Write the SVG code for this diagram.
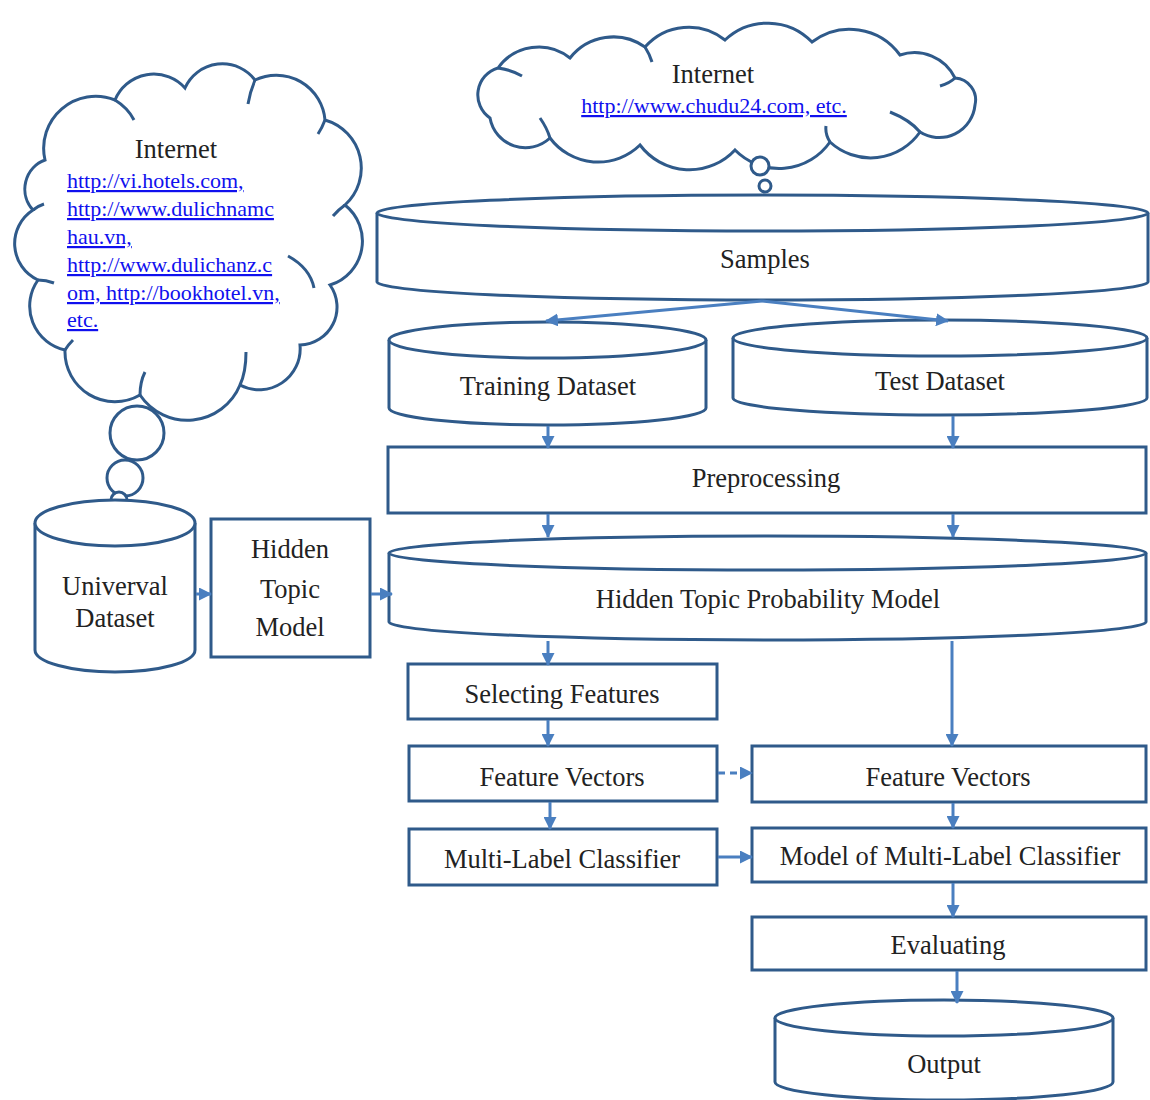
<svg xmlns="http://www.w3.org/2000/svg" width="1150" height="1100" viewBox="0 0 1150 1100">
<style>
.shape{fill:#fff;stroke:#2f5a8a;stroke-width:3}
.line{fill:none;stroke:#2f5a8a;stroke-width:3}
.arr{fill:none;stroke:#4a7fc0;stroke-width:3;marker-end:url(#ah)}
.lbl{font-family:"Liberation Serif","Times New Roman",serif;font-size:26.5px;fill:#222;text-anchor:middle}
.link{font-family:"Liberation Serif","Times New Roman",serif;font-size:22px;fill:#1010ee;text-decoration:underline}
</style>
<defs>
<marker id="ah" markerUnits="userSpaceOnUse" markerWidth="13" markerHeight="13" refX="12" refY="6.5" orient="auto">
<path d="M0,0 L13,6.5 L0,13 z" fill="#4a7fc0"/>
</marker>
</defs>
<rect width="1150" height="1100" fill="#fff"/>

<g id="cloud-left">
<path class="shape" d="M45,160 A52,52 0 0 1 115,100 A42,42 0 0 1 185,88 A41,41 0 0 1 255,80 A49,49 0 0 1 325,120 A50,50 0 0 1 345,205 A46,46 0 0 1 330,285 A38,38 0 0 1 300,345 A41,41 0 0 1 240,385 A57,57 0 0 1 140,395 A50,50 0 0 1 65,350 A45,45 0 0 1 38,280 A40,40 0 0 1 33,210 A31,31 0 0 1 45,160 Z"/>
<path class="line" d="M115,100 Q128,108 134,120 M255,80 Q250,92 248,104 M325,120 Q322,128 318,134 M345,205 Q338,210 333,216 M288,256 Q310,268 314,288 M240,385 Q246,372 246,352 M140,395 Q140,382 145,372 M65,350 Q68,345 73,340 M38,280 Q46,280 54,283 M33,210 Q38,206 44,204"/>
<circle class="shape" cx="137" cy="433" r="27"/>
<circle class="shape" cx="125" cy="478" r="18"/>
<circle class="shape" cx="119" cy="500" r="8"/>
<text class="lbl" x="176" y="158">Internet</text>
<text class="link" x="67" y="188">http://vi.hotels.com,</text>
<text class="link" x="67" y="216">http://www.dulichnamc</text>
<text class="link" x="67" y="244">hau.vn,</text>
<text class="link" x="67" y="272">http://www.dulichanz.c</text>
<text class="link" x="67" y="300">om, http://bookhotel.vn,</text>
<text class="link" x="67" y="327">etc.</text>
</g>

<g id="cloud-top">
<path class="shape" d="M498,68 A50,50 0 0 1 570,58 A55,55 0 0 1 645,47 A58,58 0 0 1 725,40 A62,62 0 0 1 812,42 A62,62 0 0 1 900,55 A45,45 0 0 1 955,78 A22,22 0 0 1 975,105 A36,36 0 0 1 920,132 A60,60 0 0 1 830,142 A62,62 0 0 1 735,150 A62,62 0 0 1 640,145 A60,60 0 0 1 550,138 A36,36 0 0 1 490,118 A28,28 0 0 1 498,68 Z"/>
<path class="line" d="M498,68 Q512,70 522,76 M645,47 Q650,55 652,62 M955,78 Q950,83 940,86 M920,132 Q910,120 890,112 M830,142 Q825,134 826,126 M550,138 Q547,128 540,118"/>
<circle class="shape" cx="760" cy="166" r="9"/>
<circle class="shape" cx="765" cy="186" r="6"/>
<text class="lbl" x="713" y="83">Internet</text>
<text class="link" x="714" y="113" text-anchor="middle">http://www.chudu24.com, etc.</text>
</g>

<g id="samples">
<path class="shape" d="M377,213 L377,282 A385.5,18 0 0 0 1148,282 L1148,213"/>
<ellipse class="shape" cx="762.5" cy="213" rx="385.5" ry="18"/>
<text class="lbl" x="765" y="268">Samples</text>
</g>

<g id="training">
<path class="shape" d="M389,340 L389,408 A158.5,17 0 0 0 706,408 L706,340"/>
<ellipse class="shape" cx="547.5" cy="340" rx="158.5" ry="18"/>
<text class="lbl" x="548" y="395">Training Dataset</text>
</g>

<g id="test">
<path class="shape" d="M733,338 L733,398 A207,17 0 0 0 1147,398 L1147,338"/>
<ellipse class="shape" cx="940" cy="338" rx="207" ry="18"/>
<text class="lbl" x="940" y="390">Test Dataset</text>
</g>

<g id="preprocessing">
<rect class="shape" x="388" y="447" width="758" height="66"/>
<text class="lbl" x="766" y="487">Preprocessing</text>
</g>

<g id="htpm">
<path class="shape" d="M389,553 L389,622 A378.5,18 0 0 0 1146,622 L1146,553"/>
<ellipse class="shape" cx="767.5" cy="553" rx="378.5" ry="17"/>
<text class="lbl" x="768" y="608">Hidden Topic Probability Model</text>
</g>

<g id="universal">
<path class="shape" d="M35,523 L35,650 A80,22 0 0 0 195,650 L195,523"/>
<ellipse class="shape" cx="115" cy="523" rx="80" ry="23"/>
<text class="lbl" x="115" y="595">Univerval</text>
<text class="lbl" x="115" y="627">Dataset</text>
</g>

<g id="htm">
<rect class="shape" x="211" y="519" width="159" height="138"/>
<text class="lbl" x="290" y="558">Hidden</text>
<text class="lbl" x="290" y="598">Topic</text>
<text class="lbl" x="290" y="636">Model</text>
</g>

<g id="selecting">
<rect class="shape" x="408" y="664" width="309" height="55"/>
<text class="lbl" x="562" y="703">Selecting Features</text>
</g>

<g id="fv-left">
<rect class="shape" x="409" y="746" width="308" height="55"/>
<text class="lbl" x="562" y="786">Feature Vectors</text>
</g>

<g id="mlc">
<rect class="shape" x="409" y="829" width="308" height="56"/>
<text class="lbl" x="562" y="868">Multi-Label Classifier</text>
</g>

<g id="fv-right">
<rect class="shape" x="752" y="746" width="394" height="56"/>
<text class="lbl" x="948" y="786">Feature Vectors</text>
</g>

<g id="model-mlc">
<rect class="shape" x="752" y="828" width="394" height="54"/>
<text class="lbl" x="950" y="865">Model of Multi-Label Classifier</text>
</g>

<g id="evaluating">
<rect class="shape" x="752" y="917" width="394" height="53"/>
<text class="lbl" x="948" y="954">Evaluating</text>
</g>

<g id="output">
<path class="shape" d="M775,1018 L775,1082 A169,18 0 0 0 1113,1082 L1113,1018"/>
<ellipse class="shape" cx="944" cy="1018" rx="169" ry="18"/>
<text class="lbl" x="944" y="1073">Output</text>
</g>

<g id="connectors">
<path class="arr" d="M762,301 L546,321"/>
<path class="arr" d="M762,301 L948,321"/>
<path class="arr" d="M548,426 L548,448"/>
<path class="arr" d="M953,416 L953,448"/>
<path class="arr" d="M548,514 L548,537"/>
<path class="arr" d="M953,514 L953,537"/>
<path class="arr" d="M548,641 L548,665"/>
<path class="arr" d="M952,641 L952,746"/>
<path class="arr" d="M548,720 L548,746"/>
<path class="arr" d="M550,802 L550,829"/>
<path class="arr" d="M718,773 L752,773" stroke-dasharray="7,5"/>
<path class="arr" d="M718,857 L752,857"/>
<path class="arr" d="M953,803 L953,828"/>
<path class="arr" d="M953,883 L953,917"/>
<path class="arr" d="M957,971 L957,1003"/>
<path class="arr" d="M196,594 L211,594"/>
<path class="arr" d="M371,594 L392,594"/>
</g>
</svg>
